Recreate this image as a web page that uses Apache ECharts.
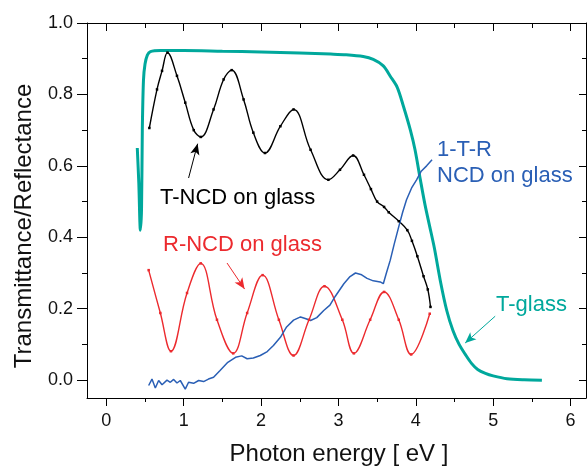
<!DOCTYPE html>
<html>
<head>
<meta charset="utf-8">
<script src="https://cdn.jsdelivr.net/npm/echarts@6/dist/echarts.min.js"></script>
<style>
html, body { margin: 0; padding: 0; background: #fff; }
#chart { width: 588px; height: 469px; }
</style>
</head>
<body>
<div id="chart"></div>
<script>
// tick positions
const xMajor = [0, 1, 2, 3, 4, 5, 6];
const xMinor = [0.5, 1.5, 2.5, 3.5, 4.5, 5.5];
const yMajor = [0, 0.2, 0.4, 0.6, 0.8, 1.0];
const yMinor = [0.1, 0.3, 0.5, 0.7, 0.9];

// T-glass (teal)
const tGlassX = [0.40, 0.42, 0.44, 0.455, 0.465, 0.48, 0.50, 0.53, 0.57, 0.7, 1.0, 1.5, 2.0, 2.5, 2.9, 3.1, 3.32, 3.45, 3.58, 3.67, 3.76, 3.84, 3.93, 3.99, 4.06, 4.12, 4.18, 4.24, 4.32, 4.40, 4.48, 4.56, 4.64, 4.72, 4.80, 4.90, 5.00, 5.18, 5.40, 5.63];
const tGlassY = [0.65, 0.55, 0.42, 0.48, 0.70, 0.84, 0.885, 0.91, 0.92, 0.923, 0.923, 0.921, 0.919, 0.916, 0.913, 0.911, 0.906, 0.898, 0.88, 0.851, 0.82, 0.767, 0.70, 0.645, 0.56, 0.49, 0.43, 0.37, 0.275, 0.195, 0.139, 0.10, 0.072, 0.047, 0.03, 0.019, 0.012, 0.004, 0.001, 0.0];

// T-NCD on glass (black)
const tNcdX = [0.556, 0.655, 0.72, 0.79, 0.913, 1.02, 1.13, 1.22, 1.386, 1.516, 1.62, 1.774, 1.90, 2.05, 2.25, 2.42, 2.64, 2.87, 3.02, 3.19, 3.33, 3.42, 3.50, 3.59, 3.65, 3.78, 3.89, 3.95, 4.02, 4.10, 4.155, 4.19];
const tNcdY = [0.706, 0.814, 0.866, 0.917, 0.852, 0.777, 0.70, 0.681, 0.758, 0.842, 0.868, 0.786, 0.693, 0.636, 0.711, 0.758, 0.645, 0.561, 0.589, 0.629, 0.575, 0.535, 0.50, 0.485, 0.47, 0.445, 0.42, 0.39, 0.347, 0.291, 0.254, 0.205];

// R-NCD on glass (red)
const rNcdX = [0.547, 0.698, 0.835, 1.043, 1.22, 1.43, 1.64, 1.82, 2.02, 2.23, 2.42, 2.62, 2.82, 3.05, 3.20, 3.41, 3.59, 3.78, 3.94, 4.18];
const rNcdY = [0.308, 0.188, 0.081, 0.244, 0.327, 0.169, 0.075, 0.188, 0.294, 0.169, 0.069, 0.169, 0.263, 0.169, 0.075, 0.169, 0.247, 0.169, 0.072, 0.186];

// 1-T-R NCD on glass (blue)
const absX = [0.547, 0.59, 0.633, 0.676, 0.72, 0.784, 0.827, 0.87, 0.913, 0.956, 1.02, 1.063, 1.128, 1.193, 1.257, 1.32, 1.386, 1.47, 1.57, 1.67, 1.75, 1.82, 1.90, 1.99, 2.08, 2.16, 2.25, 2.33, 2.42, 2.51, 2.58, 2.64, 2.72, 2.81, 2.89, 2.96, 3.07, 3.15, 3.22, 3.30, 3.37, 3.45, 3.54, 3.58, 3.62, 3.67, 3.72, 3.78, 3.83, 3.88, 3.95, 4.01, 4.07, 4.14, 4.21];
const absY = [-0.015, 0.003, -0.022, -0.001, -0.013, 0.0, -0.006, 0.002, -0.008, -0.001, -0.025, -0.006, -0.009, -0.001, -0.004, 0.003, 0.008, 0.027, 0.05, 0.064, 0.068, 0.06, 0.062, 0.069, 0.08, 0.097, 0.12, 0.149, 0.168, 0.177, 0.172, 0.167, 0.175, 0.195, 0.21, 0.235, 0.27, 0.29, 0.30, 0.295, 0.285, 0.278, 0.275, 0.27, 0.30, 0.336, 0.38, 0.43, 0.47, 0.505, 0.54, 0.561, 0.585, 0.60, 0.617];

const FONT = '"Liberation Sans", Arial, Helvetica, sans-serif';
const TEAL = '#00a89c';
const RED = '#ec2a2e';
const BLUE = '#2a5fb5';

const zip = (xs, ys) => xs.map((x, i) => [x, ys[i]]);

const xRange = {min: -0.25, max: 6.2};
const yRange = {min: -0.05, max: 1.0};

const xAxisBase = (position, values, length, inside, showLine, showLabel) => ({
  type: 'value',
  position: position,
  min: xRange.min,
  max: xRange.max,
  axisLine: {show: showLine, onZero: false, lineStyle: {color: '#000', width: 1}},
  axisTick: {show: true, inside: inside, length: length, customValues: values, lineStyle: {color: '#000', width: 1}},
  axisLabel: showLabel
    ? {show: true, customValues: values, margin: 14, fontSize: 18, color: '#111', fontFamily: FONT}
    : {show: false},
  splitLine: {show: false}
});

const yAxisBase = (position, values, length, inside, showLine, showLabel) => ({
  type: 'value',
  position: position,
  min: yRange.min,
  max: yRange.max,
  axisLine: {show: showLine, onZero: false, lineStyle: {color: '#000', width: 1}},
  axisTick: {show: true, inside: inside, length: length, customValues: values, lineStyle: {color: '#000', width: 1}},
  axisLabel: showLabel
    ? {show: true, customValues: values, margin: 14, fontSize: 18, color: '#111', fontFamily: FONT, formatter: v => v.toFixed(1)}
    : {show: false},
  splitLine: {show: false}
});

const arrow = (color, from, to) => ({
  silent: true,
  symbol: ['none', 'arrow'],
  symbolSize: [7, 11],
  label: {show: false},
  lineStyle: {color: color, width: 1, type: 'solid'},
  data: [[{coord: from}, {coord: to}]]
});

const chart = echarts.init(document.getElementById('chart'));

const option = {
  animation: false,
  backgroundColor: '#fff',
  grid: {left: 87, right: 2, top: 23, bottom: 71},
  xAxis: [
    xAxisBase('bottom', xMajor, 8, false, true, true),
    xAxisBase('bottom', xMinor, 4, false, false, false),
    xAxisBase('top', xMajor, 8, true, true, false),
    xAxisBase('top', xMinor, 5, true, false, false)
  ],
  yAxis: [
    yAxisBase('left', yMajor, 10, false, true, true),
    yAxisBase('left', yMinor, 5, false, false, false),
    yAxisBase('right', yMajor, 7, true, true, false),
    yAxisBase('right', yMinor, 4, true, false, false)
  ],
  series: [
    {
      name: 'T-glass',
      type: 'line',
      data: zip(tGlassX, tGlassY),
      showSymbol: false,
      smooth: 0.3,
      lineStyle: {color: TEAL, width: 3},
      markLine: arrow(TEAL, [5.026, 0.179], [4.638, 0.104])
    },
    {
      name: 'T-NCD on glass',
      type: 'line',
      data: zip(tNcdX, tNcdY),
      symbol: 'rect',
      symbolSize: 2.5,
      smooth: 0.4,
      itemStyle: {color: '#000'},
      lineStyle: {color: '#000', width: 1.4},
      markLine: arrow('#000', [1.063, 0.566], [1.18, 0.662])
    },
    {
      name: 'R-NCD on glass',
      type: 'line',
      data: zip(rNcdX, rNcdY),
      symbol: 'rect',
      symbolSize: 2.5,
      smooth: 0.4,
      itemStyle: {color: RED},
      lineStyle: {color: RED, width: 1.4},
      markLine: arrow(RED, [1.56, 0.328], [1.787, 0.255])
    },
    {
      name: '1-T-R NCD on glass',
      type: 'line',
      data: zip(absX, absY),
      showSymbol: false,
      smooth: false,
      lineStyle: {color: BLUE, width: 1.5}
    }
  ],
  graphic: [
    {type: 'text', x: 160, y: 198, style: {text: 'T-NCD on glass', font: '22px ' + FONT, fill: '#000', align: 'left', verticalAlign: 'middle'}},
    {type: 'text', x: 163, y: 245, style: {text: 'R-NCD on glass', font: '22px ' + FONT, fill: RED, align: 'left', verticalAlign: 'middle'}},
    {type: 'text', x: 437, y: 150, style: {text: '1-T-R', font: '22px ' + FONT, fill: BLUE, align: 'left', verticalAlign: 'middle'}},
    {type: 'text', x: 437, y: 176, style: {text: 'NCD on glass', font: '22px ' + FONT, fill: BLUE, align: 'left', verticalAlign: 'middle'}},
    {type: 'text', x: 496, y: 305, style: {text: 'T-glass', font: '22px ' + FONT, fill: TEAL, align: 'left', verticalAlign: 'middle'}},
    {type: 'text', x: 339, y: 454, style: {text: 'Photon energy [ eV ]', font: '24px ' + FONT, fill: '#111', align: 'center', verticalAlign: 'middle'}},
    {type: 'text', x: 24, y: 226, rotation: Math.PI / 2, style: {text: 'Transmittance/Reflectance', font: '24px ' + FONT, fill: '#111', align: 'center', verticalAlign: 'middle'}}
  ]
};

chart.setOption(option);
</script>
</body>
</html>
